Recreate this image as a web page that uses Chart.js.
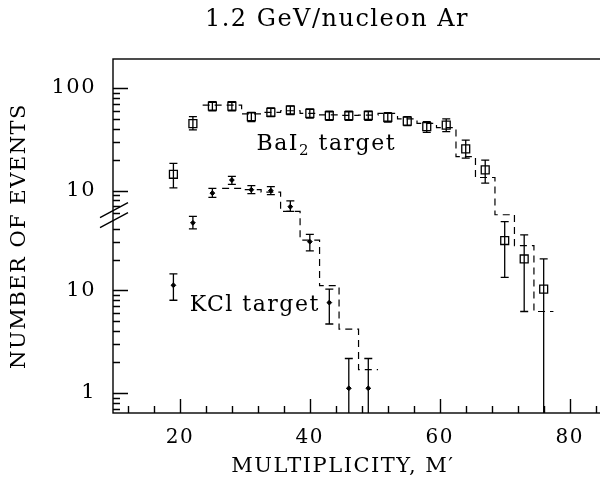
<!DOCTYPE html>
<html lang="en">
<head>
<meta charset="UTF-8">
<title>Multiplicity distributions, 1.2 GeV/nucleon Ar</title>
<script src="https://cdn.jsdelivr.net/npm/chart.js"></script>
<style>
  html, body { margin: 0; padding: 0; background: #fff; overflow: hidden; }
  #wrap { width: 674px; height: 483px; }
</style>
</head>
<body>
<div id="wrap"><canvas id="chart" width="674" height="483"></canvas></div>
<script>
// BaI2 target (read on the upper labels)
const BAI2_M  = [19, 22, 25, 28, 31, 34, 37, 40, 43, 46, 49, 52, 55, 58, 61, 64, 67, 70, 73, 76];
const BAI2_N  = [14.4, 45, 66.5, 66.5, 52.5, 58, 61, 56.6, 53.7, 53.7, 54, 51.8, 47.6, 42, 43.5, 25.5, 15.9, 3.25, 2.15, 1.09];
const BAI2_LO = [10.6, 39, 60, 60, 47, 52.5, 55, 51, 48.5, 48.5, 48.5, 46.5, 43, 37, 37.5, 20.7, 11.8, 1.42, 0.66, 0];
const BAI2_HI = [18.4, 52.5, 73.5, 73.5, 58, 64, 67, 62.5, 59.5, 59.5, 59.5, 57.5, 52.5, 47, 50, 31, 19.8, 4.97, 3.69, 2.15];
// calculation (dashed histogram), 3-unit bins
const BAI2_HIST_M = [25, 28, 31, 34, 37, 40, 43, 46, 49, 52, 55, 58, 61, 64, 67, 70, 73, 76];
const BAI2_HIST   = [68, 68, 56, 58, 60, 56.5, 54.6, 54, 54.5, 56.6, 50, 45.3, 41, 21.4, 13.4, 5.8, 2.9, 0.66];

// KCl target (read on the lower labels)
const KCL_M  = [19, 22, 25, 28, 31, 34, 37, 40, 43, 46, 49];
const KCL_N  = [10.8, 44.4, 87, 117, 94, 92, 64, 29, 7.3, 1.05, 1.05];
const KCL_LO = [7.7, 38.8, 79, 106, 86, 84, 57.5, 23.5, 4.5, 0, 0];
const KCL_HI = [14, 51.5, 97, 127, 103, 101, 73, 34.2, 9.9, 2.06, 2.06];
const KCL_HIST_M = [28, 31, 34, 37, 40, 43, 46, 49];
const KCL_HIST   = [97, 94, 89, 57.5, 30, 10.7, 4.0, 1.6];

const BIN = 3;
const KCL_SHIFT = 0.106;   // KCl curve sits about one decade lower (broken axis)

const X_TICKS  = [12, 16, 20, 24, 28, 32, 36, 40, 44, 48, 52, 56, 60, 64, 68, 72, 76, 80, 84, 88, 92];
const X_LABELS = [20, 40, 60, 80];
const Y_UPPER_MAJOR = [10, 100];
const Y_UPPER_MINOR = [6, 7, 8, 9, 20, 30, 40, 50, 60, 70, 80, 90];
const Y_LOWER_MAJOR = [1, 10];
const Y_LOWER_MINOR = [0.7, 0.8, 0.9, 2, 3, 4, 5, 6, 7, 8, 9, 20, 30, 40];

const X_MIN = 9.7, X_MAX = 95.0;
const Y_MIN = 0.0675, Y_MAX = 192;
const BREAK_AT = 5.7;

const FONT = '"DejaVu Serif", "Liberation Serif", serif';
const SPACING = '1.5px';

const yTicks = [
  ...Y_UPPER_MAJOR.map(v => ({ value: v, big: true, text: String(v) })),
  ...Y_UPPER_MINOR.map(v => ({ value: v, big: false, text: '' })),
  ...Y_LOWER_MAJOR.map(v => ({ value: v * KCL_SHIFT, big: true, text: String(v) })),
  ...Y_LOWER_MINOR.map(v => ({ value: v * KCL_SHIFT, big: false, text: '' }))
].sort((a, b) => a.value - b.value);

function points(ms, ns) {
  return ms.map((m, i) => ({ x: m, y: ns[i] }));
}
// left bin edges plus the closing edge, drawn with stepped lines
function histogram(centres, values) {
  const pts = centres.map((c, i) => ({ x: c - BIN / 2, y: values[i] }));
  pts.push({ x: centres[centres.length - 1] + BIN / 2, y: values[values.length - 1] });
  return pts;
}

const errorBars = {
  id: 'errorBars',
  afterDatasetsDraw(chart) {
    const ctx = chart.ctx, area = chart.chartArea, xs = chart.scales.x;
    ctx.save();
    ctx.beginPath();
    ctx.rect(area.left, area.top, area.right - area.left, area.bottom - area.top);
    ctx.clip();
    ctx.strokeStyle = '#000';
    ctx.lineWidth = 1.3;
    chart.data.datasets.forEach(ds => {
      if (!ds.errLo) return;
      const ys = chart.scales[ds.yAxisID];
      ds.data.forEach((p, j) => {
        const x = xs.getPixelForValue(p.x);
        const yHi = ys.getPixelForValue(ds.errHi[j]);
        const yLo = ds.errLo[j] > 0 ? ys.getPixelForValue(ds.errLo[j]) : area.bottom;
        ctx.beginPath();
        ctx.moveTo(x, yHi); ctx.lineTo(x, yLo);
        ctx.moveTo(x - 4, yHi); ctx.lineTo(x + 4, yHi);
        if (ds.errLo[j] > 0) { ctx.moveTo(x - 4, yLo); ctx.lineTo(x + 4, yLo); }
        ctx.stroke();
      });
    });
    ctx.restore();
  }
};

const frame = {
  id: 'frame',
  beforeUpdate(chart) { chart.ctx.letterSpacing = SPACING; },
  beforeDraw(chart) { chart.ctx.letterSpacing = SPACING; },
  afterDraw(chart) {
    const ctx = chart.ctx, a = chart.chartArea;
    const xs = chart.scales.x, ys = chart.scales.y, yk = chart.scales.yK;
    ctx.save();
    ctx.strokeStyle = '#000';
    ctx.lineWidth = 1.4;
    ctx.strokeRect(a.left, a.top, a.right - a.left, a.bottom - a.top);
    ctx.beginPath();
    yTicks.forEach(t => {
      const y = Math.round(ys.getPixelForValue(t.value)) + 0.5;
      ctx.moveTo(a.left, y); ctx.lineTo(a.left + (t.big ? 15 : 7), y);
    });
    X_TICKS.forEach(v => {
      const x = Math.round(xs.getPixelForValue(v)) + 0.5;
      ctx.moveTo(x, a.bottom); ctx.lineTo(x, a.bottom - (X_LABELS.includes(v) ? 14 : 7));
    });
    ctx.stroke();

    // axis break marks
    const yb = ys.getPixelForValue(BREAK_AT);
    ctx.beginPath();
    [-5, 5].forEach(d => {
      ctx.moveTo(a.left - 13, yb + d + 7);
      ctx.lineTo(a.left + 15, yb + d - 8);
    });
    ctx.stroke();

    // in-plot labels
    ctx.fillStyle = '#000';
    ctx.textBaseline = 'alphabetic';
    ctx.textAlign = 'left';
    ctx.font = '22px ' + FONT;
    let x = xs.getPixelForValue(31.8);
    const yB = ys.getPixelForValue(24.9);
    ctx.fillText('BaI', x, yB);
    x += ctx.measureText('BaI').width;
    ctx.font = '15px ' + FONT;
    ctx.fillText('2', x, yB + 5);
    x += ctx.measureText('2').width;
    ctx.font = '22px ' + FONT;
    ctx.fillText(' target', x, yB);
    ctx.fillText('KCl target', xs.getPixelForValue(21.5), yk.getPixelForValue(6.1));

    // x axis title, centred under the visible part of the axis
    ctx.textAlign = 'center';
    ctx.textBaseline = 'middle';
    ctx.font = '21px ' + FONT;
    ctx.fillText('MULTIPLICITY, M\u2032', xs.getPixelForValue(45.1), a.bottom + 54);
    ctx.restore();
  }
};

new Chart(document.getElementById('chart'), {
  type: 'scatter',
  data: {
    datasets: [
      {
        label: 'BaI2 target',
        data: points(BAI2_M, BAI2_N),
        errLo: BAI2_LO, errHi: BAI2_HI,
        yAxisID: 'y',
        pointStyle: 'rect', pointRadius: 5.6,
        borderColor: '#000', backgroundColor: 'rgba(0,0,0,0)', borderWidth: 1.3
      },
      {
        label: 'BaI2 calculation',
        data: histogram(BAI2_HIST_M, BAI2_HIST),
        yAxisID: 'y',
        showLine: true, stepped: 'before', pointRadius: 0,
        borderColor: '#000', borderWidth: 1.2, borderDash: [7, 5]
      },
      {
        label: 'KCl target',
        data: points(KCL_M, KCL_N),
        errLo: KCL_LO, errHi: KCL_HI,
        yAxisID: 'yK',
        pointStyle: 'rectRot', pointRadius: 2.4,
        borderColor: '#000', backgroundColor: '#000', borderWidth: 1
      },
      {
        label: 'KCl calculation',
        data: histogram(KCL_HIST_M, KCL_HIST),
        yAxisID: 'yK',
        showLine: true, stepped: 'before', pointRadius: 0,
        borderColor: '#000', borderWidth: 1.2, borderDash: [7, 5]
      }
    ]
  },
  options: {
    responsive: false,
    animation: false,
    layout: { padding: 0 },
    plugins: {
      legend: { display: false },
      tooltip: { enabled: false },
      title: {
        display: true,
        text: '1.2 GeV/nucleon Ar',
        color: '#000',
        font: { family: FONT, size: 24, weight: 'normal' },
        padding: { top: 5, bottom: 25.2 }
      }
    },
    scales: {
      x: {
        type: 'linear',
        min: X_MIN, max: X_MAX,
        afterBuildTicks: s => { s.ticks = X_TICKS.map(v => ({ value: v })); },
        afterFit: s => { s.height = 70; },
        grid: { display: false, drawTicks: false },
        border: { display: false },
        ticks: {
          autoSkip: false, maxRotation: 0, padding: 13, color: '#000',
          font: { family: FONT, size: 20 },
          callback: v => X_LABELS.includes(v) ? String(v) : ''
        }
      },
      y: {
        type: 'logarithmic',
        min: Y_MIN, max: Y_MAX,
        afterBuildTicks: s => { s.ticks = yTicks.map(t => ({ value: t.value })); },
        afterFit: s => { s.width = 113; },
        grid: { display: false, drawTicks: false },
        border: { display: false },
        ticks: {
          autoSkip: false, padding: 17, color: '#000',
          font: { family: FONT, size: 21 },
          callback: v => {
            const t = yTicks.find(k => Math.abs(k.value - v) < 1e-9 * Math.max(1, v));
            return t ? t.text : '';
          }
        },
        title: {
          display: true, text: 'NUMBER OF EVENTS', color: '#000',
          font: { family: FONT, size: 21 },
          padding: { top: 7, bottom: 0 }
        }
      },
      yK: {
        type: 'logarithmic',
        display: false,
        min: Y_MIN / KCL_SHIFT, max: Y_MAX / KCL_SHIFT
      }
    }
  },
  plugins: [errorBars, frame]
});
</script>
</body>
</html>
